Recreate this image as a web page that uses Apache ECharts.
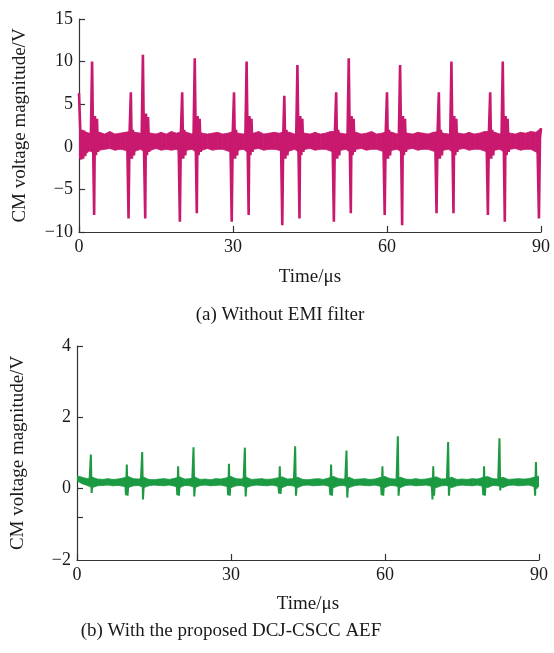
<!DOCTYPE html>
<html><head><meta charset="utf-8">
<script src="https://cdn.jsdelivr.net/npm/echarts@6/dist/echarts.min.js"></script>
<style>html,body{margin:0;padding:0;background:#fff}#c{width:554px;height:653px}</style>
</head><body><div id="c"></div>
<script>
// ---- data ----
const xTicks = [0, 30, 60, 90];
const yRangeA = [-10, 15];
const yRangeB = [-2, 4];
const yLabelsB = [-2, 0, 2, 4];
const yTicksB = [-0.8, 0, 2, 4];

// (a) noise band envelope, one value per microsecond (0..90)
const upperA = [2.0,1.8,1.6,1.8,1.7,1.5,1.8,1.5,1.6,1.7,
                1.8,1.7,1.6,1.8,1.6,1.5,1.7,1.5,1.8,1.6,
                1.8,1.7,1.5,1.8,1.6,1.5,1.6,1.7,1.5,1.6,
                1.8,1.6,1.5,1.8,1.6,1.8,1.5,1.6,1.7,1.6,
                1.8,1.7,1.5,1.8,1.6,1.5,1.7,1.5,1.6,1.8,
                1.8,1.6,1.5,1.8,1.7,1.5,1.6,1.8,1.5,1.6,
                1.8,1.7,1.5,1.8,1.6,1.5,1.7,1.6,1.5,1.7,
                1.8,1.6,1.5,1.8,1.6,1.5,1.7,1.5,1.6,1.8,
                1.8,1.7,1.5,1.8,1.6,1.5,1.7,1.6,1.8,1.7,
                2.2];
const lowerA = [-1.4,-1.0,-0.5,-0.7,-0.4,-0.3,-0.2,-0.4,-0.3,-0.4,
                -0.7,-0.5,-0.3,-0.7,-0.4,-0.2,-0.4,-0.3,-0.4,-0.3,
                -0.7,-0.4,-0.3,-0.7,-0.4,-0.2,-0.4,-0.3,-0.3,-0.5,
                -0.7,-0.4,-0.3,-0.7,-0.3,-0.2,-0.4,-0.3,-0.3,-0.4,
                -0.7,-0.5,-0.3,-0.7,-0.3,-0.2,-0.4,-0.3,-0.3,-0.5,
                -0.7,-0.4,-0.3,-0.7,-0.3,-0.2,-0.4,-0.3,-0.3,-0.5,
                -0.7,-0.4,-0.3,-0.7,-0.3,-0.2,-0.4,-0.3,-0.3,-0.5,
                -0.7,-0.4,-0.3,-0.7,-0.3,-0.2,-0.4,-0.3,-0.3,-0.5,
                -0.7,-0.4,-0.3,-0.7,-0.3,-0.2,-0.4,-0.3,-0.3,-0.6,
                -0.8];
// (a) switching spikes, [time µs, voltage V]
const spikesA = [
  [[0,6.3],[0.3,6.1],[0.45,-1.5],[0.6,2.0],[0.8,-1.4],[1.0,1.9],[1.2,-1.1],[1.4,1.6]],
  [[2.3,0.7],[2.55,10.0],[2.75,0.2],[2.95,-8.0],[3.1,3.6],[3.3,-1.0],[3.5,3.3],[3.7,-0.6],[3.9,1.2]],
  [[9.4,0.7],[9.65,-8.4],[9.85,1.6],[10.1,6.4],[10.3,-1.4],[10.5,2.0],[10.7,-1.0],[10.9,1.0]],
  [[12.2,0.7],[12.45,10.8],[12.65,0.2],[12.9,-8.4],[13.05,3.9],[13.25,-1.0],[13.45,3.5],[13.65,-0.6],[13.85,1.2]],
  [[19.4,0.7],[19.65,-8.8],[19.85,1.6],[20.1,6.4],[20.3,-1.4],[20.5,2.0],[20.7,-1.0],[20.9,1.0]],
  [[22.3,0.7],[22.55,10.4],[22.75,0.2],[22.95,-7.8],[23.1,3.6],[23.3,-1.0],[23.5,3.3],[23.7,-0.6],[23.9,1.2]],
  [[29.5,0.7],[29.75,-8.8],[29.95,1.6],[30.2,6.4],[30.4,-1.4],[30.6,2.0],[30.8,-1.0],[31.0,1.0]],
  [[32.4,0.7],[32.65,10.0],[32.85,0.2],[33.05,-8.0],[33.2,3.6],[33.4,-1.0],[33.6,3.3],[33.8,-0.6],[34.0,1.2]],
  [[39.35,0.7],[39.6,-9.2],[39.8,1.6],[40.0,6.0],[40.2,-1.4],[40.4,2.0],[40.6,-1.0],[40.8,1.0]],
  [[42.3,0.7],[42.55,9.6],[42.75,0.2],[42.95,-8.4],[43.1,3.6],[43.3,-1.0],[43.5,3.3],[43.7,-0.6],[43.9,1.2]],
  [[49.4,0.7],[49.65,-8.8],[49.85,1.6],[50.1,6.4],[50.3,-1.4],[50.5,2.0],[50.7,-1.0],[50.9,1.0]],
  [[52.3,0.7],[52.55,10.4],[52.75,0.2],[52.95,-7.8],[53.1,3.6],[53.3,-1.0],[53.5,3.3],[53.7,-0.6],[53.9,1.2]],
  [[59.3,0.7],[59.55,-8.0],[59.75,1.6],[60.0,6.4],[60.2,-1.4],[60.4,2.0],[60.6,-1.0],[60.8,1.0]],
  [[62.3,0.7],[62.55,9.6],[62.75,0.2],[62.95,-9.2],[63.1,3.6],[63.3,-1.0],[63.5,3.3],[63.7,-0.6],[63.9,1.2]],
  [[69.4,0.7],[69.65,-7.8],[69.85,1.6],[70.1,6.4],[70.3,-1.4],[70.5,2.0],[70.7,-1.0],[70.9,1.0]],
  [[72.3,0.7],[72.55,10.0],[72.75,0.2],[72.95,-7.8],[73.1,3.6],[73.3,-1.0],[73.5,3.3],[73.7,-0.6],[73.9,1.2]],
  [[79.4,0.7],[79.65,-8.0],[79.85,1.6],[80.1,6.4],[80.3,-1.4],[80.5,2.0],[80.7,-1.0],[80.9,1.0]],
  [[82.3,0.7],[82.55,10.0],[82.75,0.2],[82.95,-8.8],[83.1,3.6],[83.3,-1.0],[83.5,3.3],[83.7,-0.6],[83.9,1.2]],
  [[89.3,0.7],[89.6,-8.4],[89.8,1.0],[90,2.2]]
];

// (b) noise band envelope, one value per microsecond (0..90)
const upperB = [0.36,0.32,0.28,0.32,0.27,0.26,0.28,0.26,0.27,0.30,
                0.34,0.28,0.27,0.32,0.26,0.25,0.27,0.28,0.26,0.29,
                0.33,0.27,0.28,0.32,0.26,0.27,0.25,0.28,0.27,0.30,
                0.34,0.28,0.27,0.32,0.26,0.27,0.28,0.26,0.27,0.30,
                0.33,0.27,0.28,0.32,0.26,0.25,0.27,0.28,0.26,0.30,
                0.34,0.28,0.27,0.32,0.26,0.27,0.28,0.26,0.27,0.31,
                0.34,0.28,0.27,0.32,0.27,0.26,0.28,0.26,0.27,0.30,
                0.33,0.27,0.28,0.32,0.26,0.27,0.26,0.28,0.27,0.31,
                0.34,0.28,0.27,0.32,0.26,0.27,0.28,0.27,0.28,0.32,
                0.35];
const lowerB = [0.22,0.14,0.09,0.03,0.08,0.09,0.10,0.08,0.09,0.07,
                0.03,0.08,0.09,0.03,0.08,0.10,0.09,0.08,0.10,0.07,
                0.03,0.09,0.08,0.03,0.09,0.10,0.08,0.09,0.10,0.07,
                0.03,0.08,0.09,0.03,0.08,0.10,0.09,0.08,0.10,0.07,
                0.03,0.09,0.08,0.03,0.09,0.10,0.08,0.09,0.10,0.07,
                0.03,0.08,0.09,0.03,0.08,0.10,0.09,0.08,0.10,0.07,
                0.03,0.09,0.08,0.03,0.09,0.10,0.08,0.09,0.10,0.07,
                0.03,0.08,0.09,0.03,0.08,0.10,0.09,0.08,0.10,0.07,
                0.03,0.09,0.08,0.03,0.09,0.10,0.08,0.09,0.10,0.06,
                0.05];
const spikesB = [
  [[2.45,0.22],[2.7,0.96],[2.85,-0.12],[3.05,0.24]],
  [[9.35,0.25],[9.55,-0.18],[9.7,0.68],[9.85,-0.2],[10.05,0.25]],
  [[12.45,0.22],[12.7,1.03],[12.85,-0.3],[13.05,0.22]],
  [[19.35,0.25],[19.55,-0.18],[19.7,0.63],[19.85,-0.2],[20.05,0.25]],
  [[22.45,0.22],[22.7,1.16],[22.85,-0.22],[23.05,0.22]],
  [[29.25,0.25],[29.45,-0.18],[29.6,0.70],[29.75,-0.2],[29.95,0.25]],
  [[32.45,0.22],[32.7,1.15],[32.85,-0.22],[33.05,0.22]],
  [[39.15,0.25],[39.35,-0.13],[39.5,0.63],[39.65,-0.15],[39.85,0.25]],
  [[42.25,0.22],[42.5,1.19],[42.65,-0.2],[42.85,0.22]],
  [[49.15,0.25],[49.35,-0.18],[49.5,0.68],[49.65,-0.2],[49.85,0.25]],
  [[52.25,0.22],[52.5,1.07],[52.65,-0.25],[52.85,0.22]],
  [[59.15,0.25],[59.35,-0.18],[59.5,0.63],[59.65,-0.2],[59.85,0.25]],
  [[62.25,0.22],[62.5,1.47],[62.65,-0.2],[62.85,0.22]],
  [[69.05,0.25],[69.25,-0.3],[69.4,0.63],[69.55,-0.2],[69.75,0.25]],
  [[72.05,0.22],[72.3,1.31],[72.45,-0.2],[72.65,0.22]],
  [[78.95,0.25],[79.15,-0.18],[79.3,0.63],[79.45,-0.2],[79.65,0.25]],
  [[82.05,0.22],[82.3,1.41],[82.45,-0.05],[82.65,0.22]],
  [[89.05,0.25],[89.25,-0.2],[89.4,0.75],[89.55,0.0],[89.75,0.3]]
];

// ---- chart ----
const MAG = '#C8196E', GRN = '#1B9A42';
const FONT = 'Liberation Serif';
const fmt = v => String(v).replace('-', '\u2212');

// band between lower and upper envelope: one quad per sample interval
function bandSeries(upper, lower, idx, color) {
  const data = [];
  for (let i = 0; i < upper.length - 1; i++) {
    data.push([i, lower[i], upper[i], i + 1, lower[i + 1], upper[i + 1]]);
  }
  return {
    type:'custom', xAxisIndex:idx, yAxisIndex:idx, data:data, silent:true, clip:true, z:2,
    encode:{x:[0, 3], y:[1, 2, 4, 5]},
    renderItem:function (params, api) {
      const p1 = api.coord([api.value(0), api.value(2)]);
      const p2 = api.coord([api.value(3), api.value(5)]);
      const p3 = api.coord([api.value(3), api.value(4)]);
      const p4 = api.coord([api.value(0), api.value(1)]);
      return {type:'polygon', shape:{points:[p1, p2, p3, p4]},
              style:{fill:color, stroke:color, lineWidth:0.8}};
    }
  };
}
function spikeSeries(segs, idx, color, w) {
  const data = [];
  segs.forEach((s, i) => { if (i) data.push(null); s.forEach(p => data.push(p)); });
  return {type:'line', xAxisIndex:idx, yAxisIndex:idx, data:data, connectNulls:false,
          symbol:'none', silent:true, lineStyle:{width:w, color:color, join:'bevel'}, z:3};
}

const axisCommon = {
  axisLine:{onZero:false, lineStyle:{color:'#333', width:1.2}},
  axisTick:{inside:true, length:6, lineStyle:{color:'#333', width:1.2}},
  splitLine:{show:false},
  axisLabel:{fontFamily:FONT, fontSize:18, color:'#1a1a1a', margin:6, formatter:fmt},
  nameTextStyle:{fontFamily:FONT, fontSize:19, color:'#1a1a1a'}
};

const chart = echarts.init(document.getElementById('c'), null, {renderer:'canvas'});
chart.setOption({
  animation:false,
  backgroundColor:'#fff',
  grid:[
    {left:79, top:19, width:462, height:213, containLabel:false},
    {left:77, top:346, width:462, height:214, containLabel:false}
  ],
  xAxis:[
    Object.assign({}, axisCommon, {type:'value', gridIndex:0, min:xTicks[0], max:xTicks[xTicks.length-1], interval:30,
      name:'Time/\u03bcs', nameLocation:'middle', nameGap:36}),
    Object.assign({}, axisCommon, {type:'value', gridIndex:1, min:xTicks[0], max:xTicks[xTicks.length-1], interval:30,
      name:'Time/\u03bcs', nameLocation:'middle', nameGap:35})
  ],
  yAxis:[
    Object.assign({}, axisCommon, {type:'value', gridIndex:0, min:yRangeA[0], max:yRangeA[1], interval:5,
      name:'CM voltage magnitude/V', nameLocation:'middle', nameGap:49}),
    Object.assign({}, axisCommon, {type:'value', gridIndex:1, min:yRangeB[0], max:yRangeB[1], interval:2,
      name:'CM voltage magnitude/V', nameLocation:'middle', nameGap:49,
      axisTick:{inside:true, length:6, lineStyle:{color:'#333', width:1.2}, customValues:yTicksB},
      axisLabel:{fontFamily:FONT, fontSize:18, color:'#1a1a1a', margin:6, formatter:fmt, customValues:yLabelsB}})
  ],
  graphic:[
    {type:'text', x:280, y:315, style:{text:'(a) Without EMI filter', font:'19px "Liberation Serif"', fill:'#1a1a1a', align:'center', verticalAlign:'middle'}},
    {type:'text', x:231, y:631, style:{text:'(b) With the proposed DCJ-CSCC AEF', font:'19px "Liberation Serif"', fill:'#1a1a1a', align:'center', verticalAlign:'middle'}}
  ],
  series:[
    bandSeries(upperA, lowerA, 0, MAG),
    spikeSeries(spikesA, 0, MAG, 2.6),
    bandSeries(upperB, lowerB, 1, GRN),
    spikeSeries(spikesB, 1, GRN, 2.0)
  ]
});
</script></body></html>
